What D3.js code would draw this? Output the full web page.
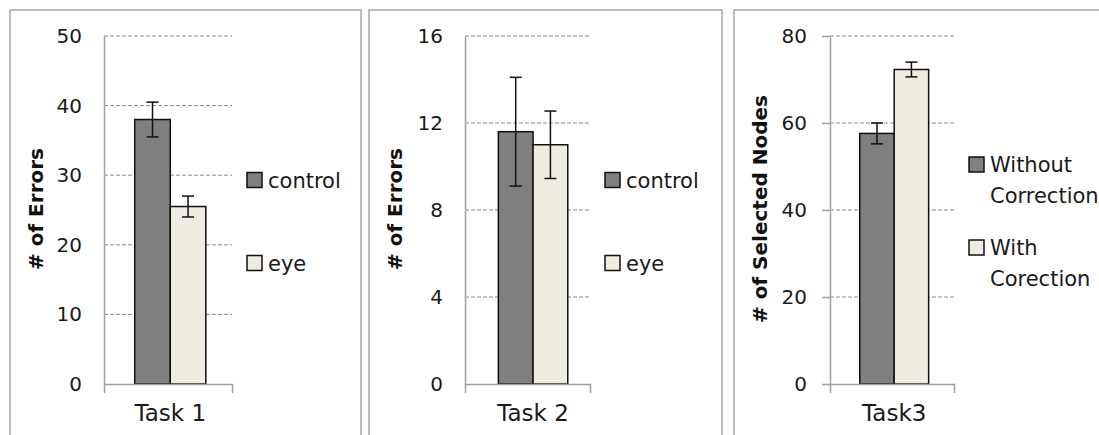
<!DOCTYPE html>
<html>
<head>
<meta charset="utf-8">
<script src="https://cdn.jsdelivr.net/npm/d3@7"></script>
<style>
  body { margin: 0; background: #fff; }
  svg { display: block; font-family: "DejaVu Sans", Verdana, sans-serif; }
</style>
</head>
<body>
<svg id="chart" width="1099" height="435"></svg>
<script>
// data
const tasks = ['Task 1', 'Task 2', 'Task3'];
const yTitles = ['# of Errors', '# of Errors', '# of Selected Nodes'];
const yMax = [50, 16, 80];
const yTicks = [[0, 10, 20, 30, 40, 50], [0, 4, 8, 12, 16], [0, 20, 40, 60, 80]];
const seriesNames = [
  [['control'], ['eye']],
  [['control'], ['eye']],
  [['Without', 'Correction'], ['With', 'Corection']]
];
const means = [[38.0, 25.5], [11.6, 11.0], [57.6, 72.3]];
const errs = [[2.5, 1.5], [2.5, 1.55], [2.4, 1.7]];
const colors = ['#7f7f7f', '#eeece1'];

const svg = d3.select('#chart');

// panel layout
const panelLeft = [10, 369, 734];
const panelRight = [361, 722, 1110];
const axisOff = [94, 96, 96];
const plotW = [128, 125, 124];
const barAlign = [0.54, 0.6, 0.54];
const plotTop = 36, plotH = 348;
const leftTicks = [false, false, true];

tasks.forEach((task, i) => {
  // frame
  svg.append('rect')
    .attr('x', panelLeft[i])
    .attr('y', 10)
    .attr('width', panelRight[i] - panelLeft[i])
    .attr('height', 440)
    .attr('fill', 'none')
    .attr('stroke', '#a6a6a6')
    .attr('stroke-width', 1.5);

  const g = svg.append('g')
    .attr('transform', `translate(${panelLeft[i] + axisOff[i]}, ${plotTop})`);

  const w = plotW[i];
  const y = d3.scaleLinear().domain([0, yMax[i]]).range([plotH, 0]);
  const x0 = d3.scaleBand().domain([task]).range([0, w])
    .paddingInner(0).paddingOuter(0.4).align(barAlign[i]);
  const x1 = d3.scaleBand().domain([0, 1]).range([0, x0.bandwidth()]);

  // grid
  g.append('g').selectAll('line')
    .data(yTicks[i].filter(d => d > 0))
    .join('line')
    .attr('x1', 0).attr('x2', w)
    .attr('y1', d => y(d)).attr('y2', d => y(d))
    .attr('stroke', '#8a8a8a')
    .attr('stroke-dasharray', '4,2');

  // bars
  const bars = g.append('g');
  bars.selectAll('rect')
    .data(means[i])
    .join('rect')
    .attr('x', (d, j) => x0(task) + x1(j))
    .attr('y', d => y(d))
    .attr('width', x1.bandwidth())
    .attr('height', d => plotH - y(d))
    .attr('fill', (d, j) => colors[j])
    .attr('stroke', '#111')
    .attr('stroke-width', 1.5);

  // error bars
  const eb = g.append('g').attr('stroke', '#111').attr('stroke-width', 1.5);
  means[i].forEach((m, j) => {
    const cx = x0(task) + x1(j) + x1.bandwidth() / 2;
    const hi = y(m + errs[i][j]), lo = y(m - errs[i][j]);
    eb.append('line').attr('x1', cx).attr('x2', cx).attr('y1', hi).attr('y2', lo);
    eb.append('line').attr('x1', cx - 6).attr('x2', cx + 6).attr('y1', hi).attr('y2', hi);
    eb.append('line').attr('x1', cx - 6).attr('x2', cx + 6).attr('y1', lo).attr('y2', lo);
  });

  // y axis
  const yaxis = d3.axisLeft(y)
    .tickValues(yTicks[i])
    .tickSizeOuter(0)
    .tickSizeInner(leftTicks[i] ? 8 : 0)
    .tickPadding(leftTicks[i] ? 15 : 22);
  const ya = g.append('g').call(yaxis);
  ya.select('.domain').attr('stroke', '#a0a0a0').attr('stroke-width', 1.5);
  ya.selectAll('.tick line').attr('stroke', '#a0a0a0').attr('stroke-width', 1.5);
  ya.selectAll('.tick text')
    .attr('font-size', 20)
    .attr('font-family', '"DejaVu Sans", Verdana, sans-serif')
    .attr('fill', '#1a1a1a');

  // x axis
  const xaxis = d3.axisBottom(x0).tickSizeInner(0).tickSizeOuter(9).tickPadding(21);
  const xa = g.append('g').attr('transform', `translate(0, ${plotH})`).call(xaxis);
  xa.select('.domain').attr('stroke', '#a0a0a0').attr('stroke-width', 1.5);
  xa.selectAll('.tick text')
    .attr('font-size', 23)
    .attr('font-family', '"DejaVu Sans", Verdana, sans-serif')
    .attr('fill', '#1a1a1a');

  // y title
  svg.append('text')
    .attr('transform', `translate(${panelLeft[i] + 26}, 209) rotate(-90)`)
    .attr('text-anchor', 'middle')
    .attr('dy', '0.36em')
    .attr('font-size', 20)
    .attr('font-weight', 'bold')
    .attr('fill', '#111')
    .text(yTitles[i]);

  // legend
  const lg = g.append('g').attr('transform', `translate(${w + 15}, 0)`);
  const legendY = [180 - plotTop, 263 - plotTop];
  seriesNames[i].forEach((lines, j) => {
    const top = legendY[j] - (lines.length - 1) * 31 / 2;
    lg.append('rect')
      .attr('x', 0)
      .attr('y', top - 7.5)
      .attr('width', 15)
      .attr('height', 15)
      .attr('fill', colors[j])
      .attr('stroke', '#111')
      .attr('stroke-width', 1.5);
    lg.append('text')
      .attr('x', 21)
      .attr('y', top)
      .attr('font-size', 21)
      .attr('fill', '#1a1a1a')
      .selectAll('tspan')
      .data(lines)
      .join('tspan')
      .attr('x', 21)
      .attr('dy', (d, k) => k === 0 ? '0.36em' : 31)
      .text(d => d);
  });
});
</script>
</body>
</html>
